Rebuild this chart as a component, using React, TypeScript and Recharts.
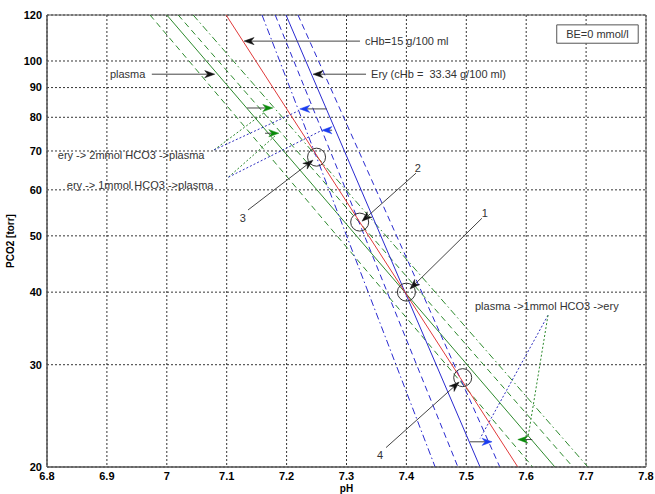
import React from "react"
import {
  ComposedChart,
  Line,
  XAxis,
  YAxis,
  CartesianGrid,
  ReferenceLine,
  ReferenceDot,
  ReferenceArea,
} from "recharts"

// axis ticks
const phTicks = [6.8, 6.9, 7, 7.1, 7.2, 7.3, 7.4, 7.5, 7.6, 7.7, 7.8]
const pco2Ticks = [20, 30, 40, 50, 60, 70, 80, 90, 100, 120]

// buffer lines, read where they leave the plot at PCO2 = 120 and 20
const plasmaMinus1 = [{ ph: 6.972, p: 120 }, { ph: 7.611, p: 20 }]
const plasma = [{ ph: 7.0, p: 120 }, { ph: 7.648, p: 20 }]
const plasmaPlus1 = [{ ph: 7.019, p: 120 }, { ph: 7.678, p: 20 }]
const plasmaPlus2 = [{ ph: 7.044, p: 120 }, { ph: 7.703, p: 20 }]
const blood15 = [{ ph: 7.099, p: 120 }, { ph: 7.586, p: 20 }]
const eryMinus2 = [{ ph: 7.159, p: 120 }, { ph: 7.448, p: 20 }]
const eryMinus1 = [{ ph: 7.181, p: 120 }, { ph: 7.486, p: 20 }]
const ery = [{ ph: 7.199, p: 120 }, { ph: 7.523, p: 20 }]
const eryPlus1 = [{ ph: 7.219, p: 120 }, { ph: 7.556, p: 20 }]

// numbered circles on the cHb=15 line
const points = [
  { id: "1", ph: 7.4, p: 40 },
  { id: "2", ph: 7.322, p: 52.8 },
  { id: "3", ph: 7.25, p: 68.3 },
  { id: "4", ph: 7.494, p: 28.5 },
]

// annotation arrows: from -> to (head at "to")
const arrows = [
  { from: [7.3225, 108.2], to: [7.129, 108.2], head: "#111" },
  { from: [7.3326, 94.9], to: [7.2441, 94.9], head: "#111" },
  { from: [6.975, 94.9], to: [7.08, 94.9], head: "#111" },
  { from: [7.134, 83.0], to: [7.177, 83.0], head: "#0a8a0a" },
  { from: [7.164, 75.1], to: [7.187, 75.1], head: "#0a8a0a" },
  { from: [7.267, 82.7], to: [7.222, 82.7], head: "#1a3cf0" },
  { from: [7.276, 76.0], to: [7.259, 76.0], head: "#1a3cf0" },
  { from: [7.506, 22.1], to: [7.543, 22.1], head: "#1a3cf0" },
  { from: [7.61, 22.3], to: [7.586, 22.3], head: "#0a8a0a" },
  { from: [7.1356, 55.4], to: [7.244, 67.5], head: "#111" },
  { from: [7.416, 64.1], to: [7.326, 53.0], head: "#111" },
  { from: [7.526, 53.6], to: [7.406, 40.5], head: "#111" },
  { from: [7.366, 21.6], to: [7.488, 28.0], head: "#111" },
]

// dotted leader lines from the labels
const leaders = [
  { from: [7.079, 70.3], to: [7.164, 81.7], color: "#2d8a2d" },
  { from: [7.079, 70.3], to: [7.219, 82.0], color: "#3030c0" },
  { from: [7.103, 63.1], to: [7.182, 74.5], color: "#2d8a2d" },
  { from: [7.103, 63.1], to: [7.256, 75.7], color: "#3030c0" },
  { from: [7.6364, 36.5], to: [7.523, 22.4], color: "#3030c0" },
  { from: [7.6364, 36.5], to: [7.603, 22.5], color: "#2d8a2d" },
]

const notes = [
  { text: "cHb=15 g/100 ml", ph: 7.331, p: 108.2, anchor: "start" },
  { text: "Ery (cHb = \u00a033.34 g/100 ml)", ph: 7.341, p: 94.9, anchor: "start" },
  { text: "plasma", ph: 6.905, p: 94.9, anchor: "start" },
  { text: "ery -> 2mmol HCO3 ->plasma", ph: 6.818, p: 68.9, anchor: "start" },
  { text: "ery -> 1mmol HCO3 ->plasma", ph: 6.833, p: 61.2, anchor: "start" },
  { text: "plasma ->1mmol HCO3 ->ery", ph: 7.5145, p: 37.8, anchor: "start" },
  { text: "3", ph: 7.127, p: 53.6, anchor: "middle" },
  { text: "2", ph: 7.419, p: 65.4, anchor: "middle" },
  { text: "1", ph: 7.531, p: 54.7, anchor: "middle" },
  { text: "4", ph: 7.356, p: 20.96, anchor: "middle" },
]

const GREEN = "#2d8a2d"
const BLUE = "#2a2ad0"
const RED = "#e03a3a"
const DASH = "6 4"
const DASHDOT = "7 3 1.5 3"

const arrowShape = (head: string) => (props: any) => {
  const { x1, y1, x2, y2 } = props
  const a = Math.atan2(y2 - y1, x2 - x1)
  const c = Math.cos(a)
  const s = Math.sin(a)
  const len = 10
  const w = 3.6
  const bx = x2 - len * c
  const by = y2 - len * s
  const nx = x2 - len * 0.7 * c
  const ny = y2 - len * 0.7 * s
  const pts = [
    [x2, y2],
    [bx - w * s, by + w * c],
    [nx, ny],
    [bx + w * s, by - w * c],
  ]
    .map((q) => q.join(","))
    .join(" ")
  return (
    <g>
      <line x1={x1} y1={y1} x2={nx} y2={ny} stroke="#444" strokeWidth={1} />
      <polygon points={pts} fill={head} stroke={head} strokeWidth={0.5} />
    </g>
  )
}

const noteShape = (text: string, anchor: string) => (props: any) => (
  <text
    x={props.cx}
    y={props.cy}
    textAnchor={anchor}
    dominantBaseline="central"
    fontSize={11}
    fill="#333"
  >
    {text}
  </text>
)

const circleShape = (props: any) => (
  <circle cx={props.cx} cy={props.cy} r={9} fill="none" stroke="#333" strokeWidth={1} />
)

const tickStyle = { fill: "#000", fontSize: 11, fontWeight: "bold" }

export default function App() {
  const lines = [
    { data: plasmaMinus1, color: GREEN, dash: DASH },
    { data: plasma, color: GREEN, dash: undefined },
    { data: plasmaPlus1, color: GREEN, dash: DASH },
    { data: plasmaPlus2, color: GREEN, dash: DASHDOT },
    { data: eryMinus2, color: BLUE, dash: DASHDOT },
    { data: eryMinus1, color: BLUE, dash: DASH },
    { data: ery, color: BLUE, dash: undefined },
    { data: eryPlus1, color: BLUE, dash: DASH },
    { data: blood15, color: RED, dash: undefined },
  ]

  return (
    <div
      style={{
        position: "absolute",
        left: 0,
        top: 0,
        width: 655,
        height: 494,
        background: "#fff",
        fontFamily: '"Liberation Sans", Arial, sans-serif',
      }}
    >
      <ComposedChart
        width={655}
        height={494}
        margin={{ top: 15, right: 9, bottom: 0, left: 0 }}
      >
        <CartesianGrid stroke="#000" strokeDasharray="2 2" strokeWidth={0.8} />
        <XAxis
          dataKey="ph"
          type="number"
          domain={[6.8, 7.8]}
          ticks={phTicks}
          allowDataOverflow
          height={27}
          stroke="#555"
          tickLine={false}
          tickSize={3}
          tick={tickStyle}
          label={{
            value: "pH",
            position: "insideBottom",
            offset: 2,
            fill: "#000",
            fontSize: 10,
            fontWeight: "bold",
          }}
        />
        <YAxis
          dataKey="p"
          type="number"
          scale="log"
          domain={[20, 120]}
          ticks={pco2Ticks}
          allowDataOverflow
          width={47}
          stroke="#555"
          tickLine={false}
          tickSize={3}
          tick={tickStyle}
          label={{
            content: (lp: any) => {
              const vb = lp.viewBox
              const x = 10
              const y = vb.y + vb.height / 2
              return (
                <text
                  x={x}
                  y={y}
                  transform={`rotate(-90 ${x} ${y})`}
                  textAnchor="middle"
                  dominantBaseline="central"
                  fontSize={10}
                  fontWeight="bold"
                  fill="#000"
                >
                  PCO2 [torr]
                </text>
              )
            },
          }}
        />
        <ReferenceArea
          x1={6.8}
          x2={7.8}
          y1={20}
          y2={120}
          fill="none"
          stroke="#555"
          strokeWidth={1}
        />

        {lines.map((l, i) => (
          <Line
            key={i}
            data={l.data}
            dataKey="p"
            stroke={l.color}
            strokeWidth={1}
            strokeDasharray={l.dash}
            dot={false}
            activeDot={false}
            isAnimationActive={false}
          />
        ))}

        {leaders.map((d, i) => (
          <ReferenceLine
            key={`ld${i}`}
            segment={[
              { x: d.from[0], y: d.from[1] },
              { x: d.to[0], y: d.to[1] },
            ]}
            stroke={d.color}
            strokeDasharray="2 2"
            strokeWidth={1}
          />
        ))}

        {arrows.map((d, i) => (
          <ReferenceLine
            key={`ar${i}`}
            segment={[
              { x: d.from[0], y: d.from[1] },
              { x: d.to[0], y: d.to[1] },
            ]}
            shape={arrowShape(d.head)}
          />
        ))}

        {points.map((d) => (
          <ReferenceDot key={`pt${d.id}`} x={d.ph} y={d.p} r={9} shape={circleShape} />
        ))}

        {notes.map((n, i) => (
          <ReferenceDot
            key={`nt${i}`}
            x={n.ph}
            y={n.p}
            r={1}
            shape={noteShape(n.text, n.anchor)}
          />
        ))}

        <ReferenceArea
          x1={7.651}
          x2={7.787}
          y1={107.3}
          y2={115.4}
          fill="#fff"
          fillOpacity={1}
          stroke="#555"
          strokeWidth={1}
          label={{ value: "BE=0 mmol/l", position: "center", fontSize: 11, fill: "#333" }}
        />
      </ComposedChart>
    </div>
  )
}
